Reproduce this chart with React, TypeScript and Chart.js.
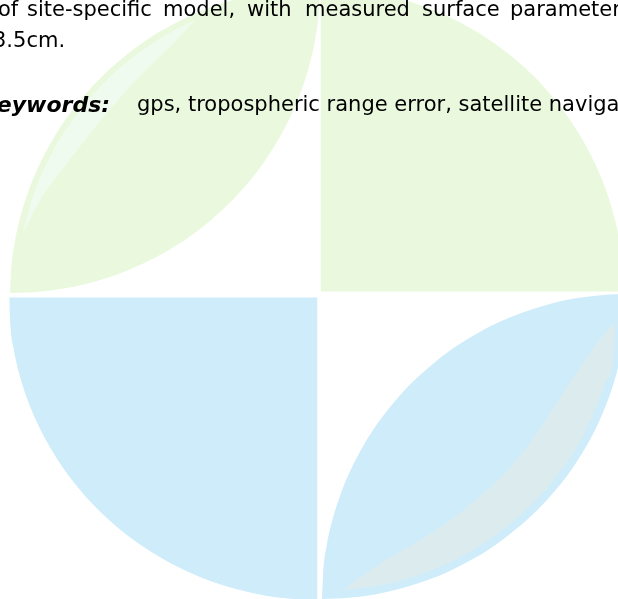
import React, { useEffect, useRef } from "react";
import { Chart, registerables } from "chart.js";

Chart.register(...registerables);

// Shape outlines, as [x, y] pairs (y grows downward)
const tlLeafOuter = [[10,293],[11.2,269.1],[14.7,242.5],[20.5,216.3],[28.6,190.7],[38.9,165.8],[51.3,142],[65.7,119.3],[82.1,98],[100.2,78.2],[120,60.1],[141.3,43.7],[164,29.3],[187.8,16.9],[212.7,6.6],[238.3,-1.5],[264.5,-7.3],[291.1,-10.8],[320,-12]];
const tlLeafInner = [[10,293],[38.8,291.8],[65.5,288.3],[91.7,282.5],[117.3,274.4],[142.2,264.1],[166,251.7],[188.7,237.3],[210,220.9],[229.8,202.8],[247.9,183],[264.3,161.7],[278.7,139],[291.1,115.2],[301.4,90.3],[309.5,64.7],[315.3,38.5],[318.8,11.8],[320,-12]];
const tlStreakOuter = [[22.6,233.2],[34.2,192.7],[51.4,154.2],[73.7,118.5],[100.8,86.2],[132.1,58],[167,34.5],[195.2,20.1]];
const tlStreakInner = [[22.6,233.2],[42.7,195.8],[67.3,162.7],[91.5,131.4],[116.6,101.5],[143.2,72.2],[172.5,44],[195.2,20.1]];

const brLeafUpper = [[322,599],[323.2,572.4],[326.6,546],[332.4,520.1],[340.4,494.7],[350.6,470.1],[362.9,446.5],[377.1,424.1],[393.4,403],[411.3,383.3],[431,365.4],[452.1,349.1],[474.5,334.9],[498.1,322.6],[522.7,312.4],[548.1,304.4],[574,298.6],[600.4,295.2],[627,294]];
const brLeafLower = [[322,599],[348.6,597.8],[375,594.4],[400.9,588.6],[426.3,580.6],[450.9,570.4],[474.5,558.1],[496.9,543.9],[518,527.6],[537.7,509.7],[555.6,490],[571.9,468.9],[586.1,446.5],[598.4,422.9],[608.6,398.3],[616.6,372.9],[622.4,347],[625.8,320.6],[627,294]];
const brStreakOuter = [[342.7,590.3],[383.7,584.5],[433.3,569.4],[479.4,545.9],[520.7,514.7],[556,476.9],[584.2,433.4],[604.5,385.8],[614.5,345.6],[615.5,322.5]];
const brStreakInner = [[342.7,590.3],[370.6,569.7],[404.8,548.9],[436.9,529.5],[473.1,501.9],[506.1,471.8],[534.2,437.2],[553.9,407.1],[574,375.9],[591,351.2],[604.2,333.7],[615.5,322.5]];

const trQuarterArc = [[320.5,-12],[346.5,-10.8],[372.8,-7.3],[398.7,-1.6],[424,6.5],[448.5,16.7],[472,29],[494.4,43.3],[515.4,59.6],[535,77.6],[552.9,97.3],[569,118.5],[583.3,141],[595.5,164.7],[605.7,189.3],[613.6,214.8],[619.4,240.9],[622.9,267.3],[624,291.5]];
const trQuarterBase = 291.5;
const blQuarterArc = [[9.2,297.5],[10.2,322.5],[13.7,348.8],[19.5,374.7],[27.6,400],[38,424.5],[50.4,448],[64.9,470.4],[81.3,491.4],[99.5,511],[119.4,528.9],[140.8,545],[163.5,559.3],[187.4,571.5],[212.3,581.7],[238,589.6],[264.4,595.4],[291.1,598.8],[317.5,600]];
const blQuarterBase = 297.5;

const line1Words: [string, number][] = [["of", -2], ["site-specific", 27], ["model,", 163], ["with", 247], ["measured", 305], ["surface", 422], ["parameter", 510]];
const line2Text = "3.5cm.";
const keywordLabel = "Keywords:";
const keywordText = "gps, tropospheric range error, satellite navigation";

const GREEN = "rgb(234,249,222)";
const GREEN_LIGHT = "rgb(240,251,240)";
const BLUE = "rgb(206,236,250)";
const BLUE_GRAY = "rgb(220,236,238)";

const pts = (a: number[][]) => a.map(([x, y]) => ({ x, y }));

const shape = (data: number[][], color: string, fill: any) => ({
  data: pts(data),
  showLine: true,
  fill,
  backgroundColor: color,
  borderColor: "rgba(0,0,0,0)",
  borderWidth: 0,
  pointRadius: 0,
  pointHoverRadius: 0,
  cubicInterpolationMode: "monotone" as const,
});

export default function App() {
  const ref = useRef<HTMLCanvasElement | null>(null);
  useEffect(() => {
    if (!ref.current) return;
    const chart = new Chart(ref.current, {
      type: "scatter",
      data: {
        datasets: [
          shape(tlStreakOuter, GREEN_LIGHT, "+1"),
          shape(tlStreakInner, GREEN_LIGHT, false),
          shape(brStreakOuter, BLUE_GRAY, "+1"),
          shape(brStreakInner, BLUE_GRAY, false),
          shape(tlLeafOuter, GREEN, "+1"),
          shape(tlLeafInner, GREEN, false),
          shape(brLeafUpper, BLUE, "+1"),
          shape(brLeafLower, BLUE, false),
          shape(trQuarterArc, GREEN, { value: trQuarterBase }),
          shape(blQuarterArc, BLUE, { value: blQuarterBase }),
        ] as any,
      },
      options: {
        responsive: false,
        animation: false,
        devicePixelRatio: 1,
        events: [],
        layout: { padding: 0 },
        elements: { line: { capBezierPoints: false } },
        plugins: { legend: { display: false }, tooltip: { enabled: false }, title: { display: false } },
        scales: {
          x: { type: "linear", min: 0, max: 618, display: false },
          y: { type: "linear", min: 0, max: 599, reverse: true, display: false },
        },
      },
    });
    return () => chart.destroy();
  }, []);

  const textBase: React.CSSProperties = {
    position: "absolute",
    fontFamily: "'DejaVu Sans', Verdana, sans-serif",
    fontSize: 21,
    lineHeight: "21px",
    color: "#000",
    whiteSpace: "nowrap",
  };

  return (
    <div style={{ position: "fixed", left: 0, top: 0, width: 618, height: 599, overflow: "hidden", background: "#fff" }}>
      <canvas ref={ref} width={618} height={599} style={{ position: "absolute", left: 0, top: 0, width: 618, height: 599 }} />
      <div style={{ position: "absolute", left: 0, top: 0, width: 618, height: 599 }}>
        {line1Words.map(([w, x]) => (
          <span key={w} style={{ ...textBase, left: x, top: -1 }}>{w}</span>
        ))}
        <span style={{ ...textBase, left: -7, top: 30 }}>{line2Text}</span>
        <span style={{ ...textBase, left: -19, top: 93.5, fontSize: 22, lineHeight: "22px", fontWeight: "bold", fontStyle: "italic" }}>{keywordLabel}</span>
        <span style={{ ...textBase, left: 137, top: 94 }}>{keywordText}</span>
      </div>
    </div>
  );
}
